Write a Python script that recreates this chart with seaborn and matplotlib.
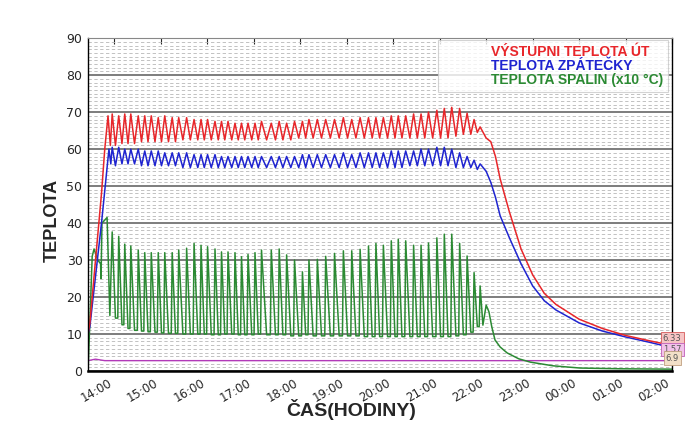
import matplotlib
matplotlib.use("Agg")
import matplotlib.pyplot as plt
import seaborn as sns
import pandas as pd
from matplotlib.lines import Line2D
from matplotlib.ticker import MultipleLocator

# ---------------- data (hours; 24+ = after midnight) ----------------
peak_t = [13.96, 14.10, 14.23, 14.36, 14.52, 14.66, 14.80, 14.95, 15.09, 15.25,
          15.39, 15.56, 15.72, 15.87, 16.01, 16.17, 16.31, 16.45, 16.60, 16.74,
          16.88, 17.03, 17.17, 17.38, 17.55, 17.71, 17.88, 18.05, 18.19, 18.37,
          18.55, 18.74, 18.93, 19.11, 19.29, 19.47, 19.63, 19.79, 19.96, 20.11,
          20.27, 20.44, 20.60, 20.76, 20.94, 21.10, 21.26, 21.43, 21.59, 21.74, 21.87]
mid_t = [14.03, 14.17, 14.30, 14.44, 14.59, 14.73, 14.88, 15.02, 15.17, 15.32,
         15.48, 15.64, 15.80, 15.94, 16.09, 16.24, 16.38, 16.53, 16.67, 16.81,
         16.96, 17.10, 17.28, 17.47, 17.63, 17.80, 17.97, 18.12, 18.28, 18.46,
         18.65, 18.84, 19.02, 19.20, 19.38, 19.55, 19.71, 19.88, 20.04, 20.19,
         20.36, 20.52, 20.68, 20.85, 21.02, 21.18, 21.35, 21.51, 21.67, 21.81]
low_t = [14.08, 14.21, 14.34, 14.50, 14.64, 14.78, 14.93, 15.07, 15.23, 15.37,
         15.54, 15.70, 15.85, 15.99, 16.15, 16.29, 16.43, 16.58, 16.72, 16.86,
         17.01, 17.15, 17.36, 17.53, 17.69, 17.86, 18.03, 18.17, 18.35, 18.53,
         18.72, 18.91, 19.09, 19.27, 19.45, 19.61, 19.77, 19.94, 20.09, 20.25,
         20.42, 20.58, 20.74, 20.92, 21.08, 21.24, 21.41, 21.57, 21.72, 21.85]

# VÝSTUPNI TEPLOTA ÚT (red)
red_ramp_t = [13.44, 13.48, 13.73, 13.80, 13.87, 13.92]
red_ramp_v = [10, 13, 48, 60, 69, 61]
red_peak = [69.5, 69, 69.5, 69.5, 69, 69, 69, 68.5, 69, 68.5,
            68.5, 68.5, 68, 68, 68, 67.5, 67.5, 67.5, 67, 67,
            67, 67, 67.5, 67, 67.5, 67, 67.5, 67.5, 68, 68,
            68, 68, 68.5, 68, 68.5, 68.5, 68.5, 68.5, 69, 69,
            69, 69.5, 69.5, 70, 70.5, 71, 71.3, 71, 69.7, 68, 66]
red_trough = [61, 61.5, 61.5, 61.5, 62, 62, 62, 62, 62, 62,
              62.5, 62.5, 62.5, 62.5, 62.5, 62.5, 62.5, 62.5, 62.5, 62.5,
              62.5, 62.5, 62.5, 62.5, 62.5, 62.5, 63, 63, 63, 63,
              63, 63, 63, 63, 63, 63, 63, 63, 63, 63,
              63, 63, 63, 63, 63, 63, 63.5, 64, 64, 64.5]
red_tail_t = [22.0, 22.1, 22.2, 22.3, 22.5, 22.75, 23.0, 23.25, 23.5, 24.0, 24.5, 25.0, 25.5, 26.0]
red_tail_v = [63, 62, 58, 52, 43, 33, 26, 21, 18, 14, 11.5, 9.6, 8.2, 6.9]

# TEPLOTA ZPÁTEČKY (blue)
blue_ramp_t = [13.44, 13.48, 13.73, 13.89, 13.93]
blue_ramp_v = [10, 12, 40, 60, 56]
blue_peak = [60.5, 60.5, 60, 60, 60, 59.5, 59.5, 59.5, 59, 59,
             59, 59, 58.5, 58.5, 58.5, 58.5, 58, 58, 58, 58,
             58, 58, 58, 58, 58, 58, 58, 58.5, 58.5, 58.5,
             58.5, 58.5, 59, 58.5, 59, 59, 59, 59, 59.5, 59.5,
             59.5, 59.5, 60, 60, 60.5, 60.5, 60, 59, 58, 57, 56]
blue_trough = [55.5, 56, 56, 56, 55.5, 55.5, 55.5, 55.5, 55.5, 55.5,
               55, 55, 55, 55, 55, 55, 55, 55, 55, 55,
               55, 55, 55, 55, 55, 55, 55, 55, 55, 55,
               55, 55, 55, 55, 55, 55, 55, 55, 55, 55,
               55.5, 55.5, 55.5, 55.5, 55.5, 55.5, 55, 55, 55, 54.5]
blue_tail_t = [22.0, 22.1, 22.2, 22.3, 22.5, 22.75, 23.0, 23.25, 23.5, 24.0, 24.5, 25.0, 25.5, 26.0]
blue_tail_v = [54, 51, 47, 42, 36, 29, 23, 19, 16.5, 13, 10.8, 9.2, 7.8, 6.3]

# TEPLOTA SPALIN (x10 °C) (green)
green_ramp_t = [13.44, 13.47, 13.53, 13.57, 13.65, 13.71, 13.72, 13.74, 13.85, 13.91]
green_ramp_v = [0, 10, 31, 33, 30, 29, 25, 40, 41.5, 15]
green_peak = [37.6, 36.4, 34.3, 33.8, 32.7, 32.0, 32, 32, 32, 32,
              32.7, 33.2, 34.5, 34, 33.6, 33, 32.2, 32.2, 32, 30.9,
              31.5, 32, 32.7, 32.7, 33, 31.4, 30, 26.8, 30, 30.2,
              31, 31.8, 32.5, 32.5, 32.9, 33.8, 34.5, 34, 35.2, 35.6,
              35.2, 34, 34, 34.6, 36, 37, 37, 34.5, 31.1, 26.6, 23]
green_trough = [14.3, 12.5, 11.5, 11, 10.8, 10.6, 10.5, 10.3, 10.2, 10.2,
                10, 10, 10, 10, 9.8, 9.8, 10, 10, 9.8, 9.8,
                9.8, 10, 9.8, 9.8, 9.8, 9.5, 9.5, 9.8, 9.5, 9.5,
                9.5, 9.5, 9.5, 9.5, 9.3, 9.3, 9.3, 9.3, 9.3, 9.3,
                9.3, 9.3, 9.3, 9.3, 9.3, 9.3, 9.5, 9.8, 10.5, 12]
green_tail_t = [21.93, 22.0, 22.06, 22.12, 22.19, 22.3, 22.45, 22.7, 22.95, 23.44, 24.02, 24.88, 26.0]
green_tail_v = [12.4, 17.8, 16, 12, 8.4, 6.5, 4.9, 3.3, 2.4, 1.4, 0.8, 0.6, 0.5]

# magenta flat line
mag_t = [13.44, 13.6, 13.8, 26.0]
mag_v = [2.8, 3.2, 2.8, 2.8]

tick_hours = [14, 15, 16, 17, 18, 19, 20, 21, 22, 23, 24, 25, 26]
tick_labels = ["14:00", "15:00", "16:00", "17:00", "18:00", "19:00", "20:00",
               "21:00", "22:00", "23:00", "00:00", "01:00", "02:00"]
legend_labels = ["VÝSTUPNI TEPLOTA ÚT", "TEPLOTA ZPÁTEČKY", "TEPLOTA SPALIN (x10 °C)"]
end_labels = ["6.33", "1.57", "6.9"]
end_values = [8.9, 5.9, 3.5]


def build(parts):
    pts = []
    for tt, vv in parts:
        pts += list(zip(tt, vv))
    pts.sort(key=lambda p: p[0])
    return pd.DataFrame(pts, columns=["t", "v"])


red_df = build([(red_ramp_t, red_ramp_v), (peak_t, red_peak), (mid_t, red_trough), (red_tail_t, red_tail_v)])
blue_df = build([(blue_ramp_t, blue_ramp_v), (peak_t, blue_peak), (mid_t, blue_trough), (blue_tail_t, blue_tail_v)])
green_df = build([(green_ramp_t, green_ramp_v), (peak_t, green_peak), (mid_t, green_trough),
                  (low_t, green_trough), (green_tail_t, green_tail_v)])
mag_df = pd.DataFrame({"t": mag_t, "v": mag_v})

sns.set_style("white")
plt.rcParams["font.family"] = ["DejaVu Sans"]

RED, BLUE, GREEN, MAG = "#e8262a", "#1f24d0", "#2b8a33", "#b23ab8"
ARIAL = ["Liberation Sans", "DejaVu Sans"]

fig = plt.figure(figsize=(6.93, 4.24), dpi=100)
ax = fig.add_axes([0.127, 0.125, 0.843, 0.785])

ax.yaxis.set_minor_locator(MultipleLocator(1))
ax.grid(True, which="major", axis="y", color="#5a5a5a", linewidth=1.1, zorder=0)
ax.grid(True, which="minor", axis="y", color="#b8b8b8", linewidth=0.6, linestyle=(0, (4, 3)), zorder=0)
ax.set_axisbelow(True)

sns.lineplot(data=mag_df, x="t", y="v", ax=ax, color=MAG, linewidth=1.0, estimator=None, sort=False)
sns.lineplot(data=green_df, x="t", y="v", ax=ax, color=GREEN, linewidth=1.1, estimator=None, sort=False)
sns.lineplot(data=blue_df, x="t", y="v", ax=ax, color=BLUE, linewidth=1.1, estimator=None, sort=False)
sns.lineplot(data=red_df, x="t", y="v", ax=ax, color=RED, linewidth=1.1, estimator=None, sort=False)

ax.set_xlim(13.44, 26.0)
ax.set_ylim(0, 90)
ax.set_yticks(range(0, 91, 10))
ax.tick_params(axis="y", labelsize=9, length=0, pad=4)
ax.set_xticks(tick_hours)
ax.set_xticklabels(tick_labels, rotation=30, ha="right", fontsize=8.5)
ax.tick_params(axis="x", which="major", direction="in", length=4, top=True, pad=4)
ax.tick_params(axis="y", which="minor", length=0)

for s in ["left", "right"]:
    ax.spines[s].set_color("black")
    ax.spines[s].set_linewidth(1.0)
ax.spines["bottom"].set_color("black")
ax.spines["bottom"].set_linewidth(1.8)
ax.spines["top"].set_color("#888888")
ax.spines["top"].set_linewidth(0.8)

ax.set_xlabel("ČAS(HODINY)", fontsize=14, fontweight="bold", family=ARIAL)
ax.xaxis.set_label_coords(0.45, -0.085)
ax.set_ylabel("TEPLOTA", fontsize=13, fontweight="bold", family=ARIAL)
ax.yaxis.set_label_coords(-0.047, 0.453)

handles = [Line2D([0], [0], color="white", linewidth=0.5) for _ in legend_labels]
leg = ax.legend(handles, legend_labels, loc="upper right", bbox_to_anchor=(0.993, 0.994),
                borderaxespad=0.0, frameon=True, fancybox=False, shadow=False,
                handlelength=3.0, handleheight=0.7, handletextpad=0.5, borderpad=0.35,
                labelspacing=0.0, prop={"family": ARIAL, "size": 10, "weight": "bold"})
for txt, c in zip(leg.get_texts(), [RED, BLUE, GREEN]):
    txt.set_color(c)
leg.get_frame().set_edgecolor("#c8c8c8")
leg.get_frame().set_linewidth(0.8)

box_styles = [("#f6c4c4", "#d65a5a"), ("#f2c2ea", "#c060b8"), ("#f2e0c8", "#c0a080")]
for lab, val, (fc, ec) in zip(end_labels, end_values, box_styles):
    ax.text(26.0, val, lab, fontsize=6, ha="center", va="center", color="#555555", clip_on=False,
            bbox=dict(boxstyle="square,pad=0.25", fc=fc, ec=ec, lw=0.6), zorder=5)

fig.savefig("out.png", dpi=100)
